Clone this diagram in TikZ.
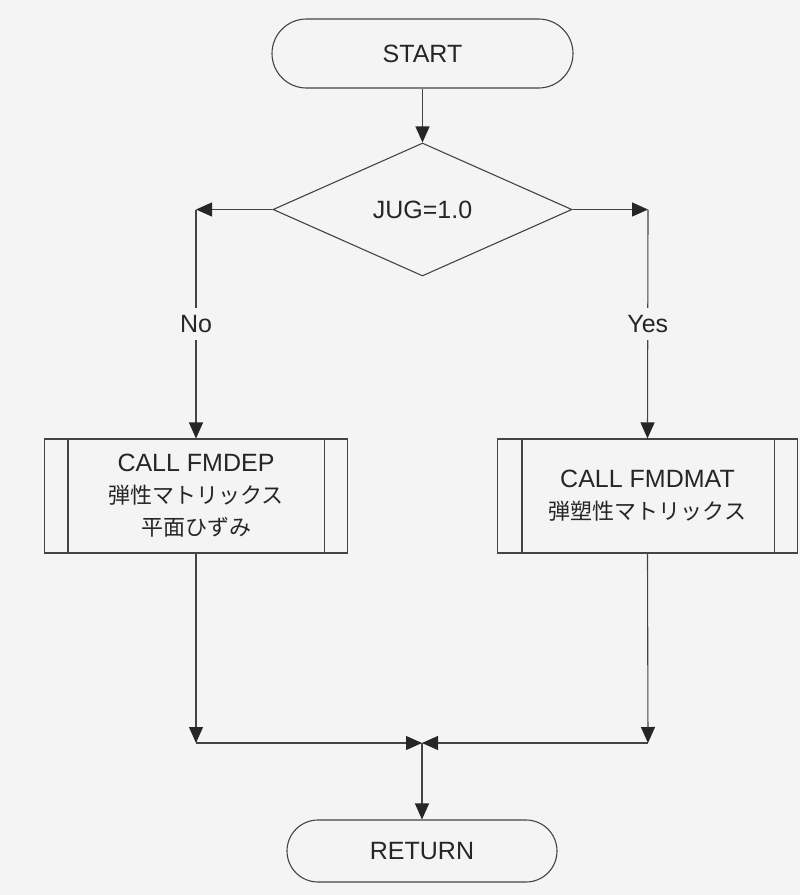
\documentclass[tikz,border=0pt]{standalone}
\usepackage{fontspec}
\setmainfont{Liberation Sans}
\newfontfamily\jp{Noto Sans CJK JP}
\usetikzlibrary{shapes.geometric,shapes.misc,arrows.meta}
\definecolor{ln}{HTML}{444444}
\definecolor{bg}{HTML}{F4F4F4}
\definecolor{tx}{HTML}{262626}
\tikzset{
  terminal/.style={rounded rectangle, draw=ln, line width=1.1pt, inner sep=0pt, text=tx, font=\fontsize{25}{30}\selectfont},
  decision/.style={diamond, draw=ln, line width=1.1pt, inner sep=0pt, minimum width=299pt, minimum height=133pt, text=tx, font=\fontsize{25}{30}\selectfont},
  proc/.style={rectangle, draw=ln, line width=1.1pt, inner sep=0pt, minimum height=114pt, align=center, text=tx, font=\fontsize{25}{32}\selectfont},
  flow/.style={draw=ln, line width=1.1pt, -{Triangle[length=16pt,width=14pt,color=tx]}},
  lbl/.style={fill=bg, inner xsep=3pt, inner ysep=7pt, text=tx, font=\fontsize{25}{30}\selectfont},
  sideline/.style={draw=ln, line width=1.1pt}
}
\begin{document}
\begin{tikzpicture}[x=1pt,y=-1pt]
\fill[bg] (0,0) rectangle (800,895);
\useasboundingbox (0,0) rectangle (800,895);

\node[terminal, minimum width=301pt, minimum height=69pt] (start) at (422.5,53.5) {START};
\node[decision] (dia) at (422.5,209.5) {JUG=1.0};
\node[proc, minimum width=303pt] (boxL) at (196,496) {CALL FMDEP\\{\jp\fontsize{22}{32}\selectfont 弾性マトリックス}\\{\jp\fontsize{22}{32}\selectfont 平面ひずみ}};
\node[proc, minimum width=300pt] (boxR) at (647.5,496) {CALL FMDMAT\\{\jp\fontsize{22}{32}\selectfont 弾塑性マトリックス}};
\node[terminal, minimum width=270pt, minimum height=62pt] (ret) at (422,851) {RETURN};

\draw[sideline] ([xshift=24pt]boxL.north west) -- ([xshift=24pt]boxL.south west);
\draw[sideline] ([xshift=-24pt]boxL.north east) -- ([xshift=-24pt]boxL.south east);
\draw[sideline] ([xshift=25pt]boxR.north west) -- ([xshift=25pt]boxR.south west);
\draw[sideline] ([xshift=-24pt]boxR.north east) -- ([xshift=-24pt]boxR.south east);

\coordinate (cl) at (196,209.5);
\coordinate (cr) at (648,209.5);
\coordinate (bl) at (196,743);
\coordinate (br) at (648,743);
\coordinate (j) at (422,743);

\draw[flow] (start.south) -- (dia.north);
\draw[flow] (dia.west) -- (cl);
\draw[flow] (dia.east) -- (cr);
\draw[flow] (cl) -- node[lbl] {No} (boxL.north);
\draw[flow] (cr) -- node[lbl] {Yes} (boxR.north);
\draw[flow] (boxL.south) -- (bl);
\draw[flow] (boxR.south) -- (br);
\draw[flow] (bl) -- (j);
\draw[flow] (br) -- (j);
\draw[flow] (j) -- (ret.north);
\end{tikzpicture}
\end{document}
